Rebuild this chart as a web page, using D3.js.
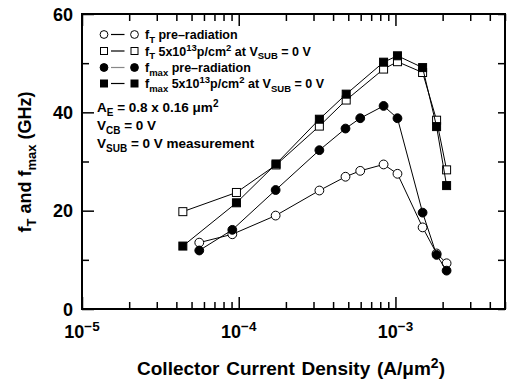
<!DOCTYPE html>
<html><head><meta charset="utf-8">
<script src="https://cdn.jsdelivr.net/npm/d3@7"></script>
<style>body{margin:0;background:#fff}svg{display:block}</style>
</head><body>
<svg id="c" width="508" height="386"></svg>
<script>
// ---- data ----
const circleX   = [5.6e-5, 9.1e-5, 1.72e-4, 3.27e-4, 4.8e-4, 5.96e-4, 8.4e-4, 1.03e-3, 1.49e-3, 1.83e-3, 2.12e-3];
const fTPre     = [13.5, 15.2, 19.0, 24.1, 26.9, 28.1, 29.4, 27.5, 16.6, 11.3, 9.3];
const fmaxPre   = [11.9, 16.1, 24.2, 32.3, 36.7, 38.8, 41.3, 38.8, 19.6, 11.0, 7.8];
const squareX   = [4.4e-5, 9.67e-5, 1.73e-4, 3.27e-4, 4.85e-4, 8.4e-4, 1.03e-3, 1.49e-3, 1.83e-3, 2.12e-3];
const fTRad     = [19.8, 23.7, 29.3, 37.2, 42.5, 48.8, 50.3, 48.1, 38.4, 28.3];
const fmaxRad   = [12.8, 21.6, 29.5, 38.6, 43.7, 50.2, 51.5, 49.1, 37.1, 25.1];
const yTickLabels = [0, 20, 40, 60];
const yTicksAll   = [0, 10, 20, 30, 40, 50, 60];
const xDecadeExps = [-5, -4, -3];

const FONT = "'Liberation Sans', Arial, Helvetica, sans-serif";
const svg = d3.select("#c");
const L = 82, R = 505, T = 14, B = 309;
const x = d3.scaleLog().domain([1e-5, 5e-3]).range([L, R]);
const y = d3.scaleLinear().domain([0, 60]).range([B, T]);

// rich text helper: parts = [[text, 'sub'|'sup'|null], ...]
function rich(textSel, parts, fs, sfs) {
  let shift = 0;
  parts.forEach(([t, kind]) => {
    let target = kind === 'sub' ? fs * 0.28 : kind === 'sup' ? -fs * 0.38 : 0;
    textSel.append("tspan").text(t).attr("dy", target - shift)
      .attr("font-size", kind ? sfs : fs);
    shift = target;
  });
}

// ---- tick values ----
const minorX = [];
for (let e = -5; e <= -3; e++) for (let m = 2; m <= 9; m++) { const v = m * Math.pow(10, e); if (v <= 5e-3) minorX.push(v); }
const majorX = xDecadeExps.map(e => Math.pow(10, e));

const axG = svg.append("g");
function styleAxis(g) { g.select(".domain").remove(); g.selectAll("line").attr("stroke", "#000").attr("stroke-width", 1.5); }
// bottom
axG.append("g").attr("transform", `translate(0,${B})`).call(d3.axisBottom(x).tickValues(minorX).tickSize(-7).tickFormat("")).call(styleAxis);
axG.append("g").attr("transform", `translate(0,${B})`).call(d3.axisBottom(x).tickValues(majorX).tickSize(-12).tickFormat("")).call(styleAxis);
// top
axG.append("g").attr("transform", `translate(0,${T})`).call(d3.axisTop(x).tickValues(minorX).tickSize(-7).tickFormat("")).call(styleAxis);
axG.append("g").attr("transform", `translate(0,${T})`).call(d3.axisTop(x).tickValues(majorX).tickSize(-12).tickFormat("")).call(styleAxis);
// left
axG.append("g").attr("transform", `translate(${L},0)`).call(d3.axisLeft(y).tickValues(yTicksAll.filter(v => v % 20 !== 0)).tickSize(-7).tickFormat("")).call(styleAxis);
axG.append("g").attr("transform", `translate(${L},0)`).call(d3.axisLeft(y).tickValues(yTickLabels).tickSize(-12).tickFormat("")).call(styleAxis);
// right
axG.append("g").attr("transform", `translate(${R},0)`).call(d3.axisRight(y).tickValues(yTicksAll).tickSize(-7).tickFormat("")).call(styleAxis);

// frame
svg.append("rect").attr("x", L).attr("y", T).attr("width", R - L).attr("height", B - T)
  .attr("fill", "none").attr("stroke", "#000").attr("stroke-width", 2);

// y tick labels
svg.append("g").selectAll("text").data(yTickLabels).join("text")
  .attr("x", L - 9).attr("y", d => y(d) + 6.5).attr("text-anchor", "end")
  .attr("font-family", FONT).attr("font-weight", "bold").attr("font-size", 18).text(d => d);

// x tick labels
xDecadeExps.forEach(e => {
  const t = svg.append("text").attr("x", x(Math.pow(10, e))).attr("y", 338).attr("text-anchor", "middle")
    .attr("font-family", FONT).attr("font-weight", "bold").attr("font-size", 18);
  rich(t, [["10", null], ["\u2212" + Math.abs(e), 'sup']], 18, 13.5);
});

// axis titles
const xt = svg.append("text").attr("x", 291).attr("y", 375).attr("text-anchor", "middle")
  .attr("font-family", FONT).attr("font-weight", "bold").attr("font-size", 19).attr("word-spacing", 1.5);
rich(xt, [["Collector Current Density (A/\u03bcm", null], ["2", 'sup'], [")", null]], 19, 14);

const yt = svg.append("text").attr("transform", "translate(31,162) rotate(-90)").attr("text-anchor", "middle")
  .attr("font-family", FONT).attr("font-weight", "bold").attr("font-size", 18);
rich(yt, [["f", null], ["T", 'sub'], [" and f", null], ["max", 'sub'], [" (GHz)", null]], 18, 13);

// ---- series ----
const series = [
  { xs: circleX, ys: fTPre,   shape: 'circle', fill: '#fff' },
  { xs: squareX, ys: fTRad,   shape: 'square', fill: '#fff' },
  { xs: circleX, ys: fmaxPre, shape: 'circle', fill: '#000' },
  { xs: squareX, ys: fmaxRad, shape: 'square', fill: '#000' },
];
const line = d3.line().x(d => x(d[0])).y(d => y(d[1]));
function marker(g, shape, fill, cx, cy, size) {
  if (shape === 'circle') {
    g.append("circle").attr("cx", cx).attr("cy", cy).attr("r", size / 2)
      .attr("fill", fill).attr("stroke", "#000").attr("stroke-width", 1);
  } else {
    const s = size - 0.8;
    g.append("rect").attr("x", cx - s / 2).attr("y", cy - s / 2).attr("width", s).attr("height", s)
      .attr("fill", fill).attr("stroke", "#000").attr("stroke-width", 1);
  }
}
series.forEach(s => {
  const pts = s.xs.map((v, i) => [v, s.ys[i]]);
  const g = svg.append("g");
  g.append("path").datum(pts).attr("d", line).attr("fill", "none").attr("stroke", "#000").attr("stroke-width", 1);
  pts.forEach(p => marker(g, s.shape, s.fill, x(p[0]), y(p[1]), 8.8));
});

// ---- legend ----
const legendRows = [
  { shape: 'circle', fill: '#fff', parts: [["f", null], ["T", 'sub'], [" pre\u2013radiation", null]] },
  { shape: 'square', fill: '#fff', parts: [["f", null], ["T", 'sub'], [" 5x10", null], ["13", 'sup'], ["p/cm", null], ["2", 'sup'], [" at V", null], ["SUB", 'sub'], [" = 0 V", null]] },
  { shape: 'circle', fill: '#000', parts: [["f", null], ["max", 'sub'], [" pre\u2013radiation", null]] },
  { shape: 'square', fill: '#000', parts: [["f", null], ["max", 'sub'], [" 5x10", null], ["13", 'sup'], ["p/cm", null], ["2", 'sup'], [" at V", null], ["SUB", 'sub'], [" = 0 V", null]] },
];
const legBase = [39, 55.5, 72, 88];
legendRows.forEach((r, i) => {
  const cy = legBase[i] - 4.5;
  const g = svg.append("g");
  g.append("line").attr("x1", 111).attr("x2", 124.5).attr("y1", cy).attr("y2", cy)
    .attr("stroke", i === 2 ? "#888" : "#000").attr("stroke-width", 1.2);
  marker(g, r.shape, r.fill, 104, cy, 7.8);
  marker(g, r.shape, r.fill, 134.5, cy, 7.8);
  const t = g.append("text").attr("x", 145).attr("y", legBase[i])
    .attr("font-family", FONT).attr("font-weight", "bold").attr("font-size", 12.5);
  rich(t, r.parts, 12.5, 9.5);
});

// ---- annotations ----
const notes = [
  [["A", null], ["E", 'sub'], [" = 0.8 x 0.16 \u03bcm", null], ["2", 'sup']],
  [["V", null], ["CB", 'sub'], [" = 0 V", null]],
  [["V", null], ["SUB", 'sub'], [" = 0 V measurement", null]],
];
const noteBase = [112, 130, 148];
notes.forEach((p, i) => {
  const t = svg.append("text").attr("x", 97).attr("y", noteBase[i])
    .attr("font-family", FONT).attr("font-weight", "bold").attr("font-size", 13.5);
  rich(t, p, 13.5, 10);
});
</script>
</body></html>
